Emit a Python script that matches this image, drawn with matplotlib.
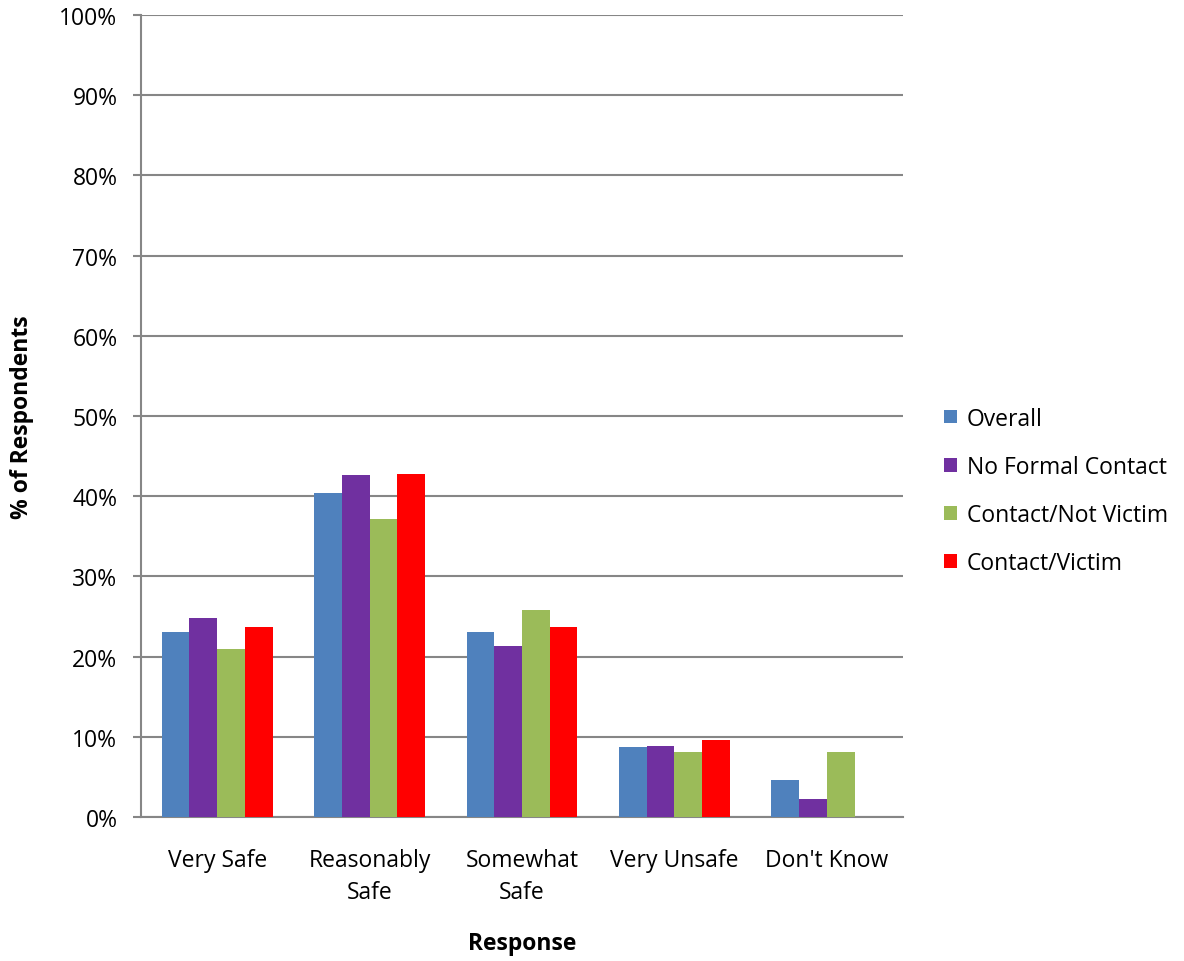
import matplotlib
matplotlib.use("Agg")
import matplotlib.pyplot as plt
import numpy as np
from matplotlib.ticker import PercentFormatter

plt.rcParams['font.family'] = ['Open Sans', 'DejaVu Sans']

categories = ["Very Safe", "Reasonably\nSafe", "Somewhat\nSafe", "Very Unsafe", "Don't Know"]
series_names = ["Overall", "No Formal Contact", "Contact/Not Victim", "Contact/Victim"]
overall = [23.1, 40.4, 23.1, 8.7, 4.6]
no_formal = [24.8, 42.7, 21.3, 8.9, 2.2]
contact_not_victim = [20.9, 37.1, 25.8, 8.1, 8.1]
contact_victim = [23.7, 42.8, 23.7, 9.6, 0.0]
colors = ["#4F81BD", "#7030A0", "#9BBB59", "#FF0000"]

fig = plt.figure(figsize=(11.84, 9.62), dpi=100)
ax = fig.add_axes([141/1184, 1 - 818/962, (903-141)/1184, (818-16)/962])

x = np.arange(len(categories))
width = 0.182
all_series = [overall, no_formal, contact_not_victim, contact_victim]
for i, (vals, name) in enumerate(zip(all_series, series_names)):
    ax.bar(x + (i - 1.5) * width, vals, width, color=colors[i], label=name, zorder=3)

ax.set_xlim(-0.5, len(categories) - 0.5)
ax.set_ylim(0, 100)
ax.set_yticks(range(0, 101, 10))
ax.yaxis.set_major_formatter(PercentFormatter(decimals=0))
ax.set_xticks(x)
ax.set_xticklabels(categories, fontsize=16.5, linespacing=1.45)
ax.tick_params(axis='x', length=0, pad=22.5)
ax.tick_params(axis='y', length=6, width=1.5, color="#868686", labelsize=16.5, pad=11)

ax.grid(axis='y', color="#868686", linewidth=1.5, zorder=0)
for s in ["top", "right"]:
    ax.spines[s].set_visible(False)
for s in ["left", "bottom"]:
    ax.spines[s].set_color("#868686")
    ax.spines[s].set_linewidth(1.5)

# axis titles
fig.text(22/1184, 1 - 417/962, "% of Respondents", rotation=90, fontsize=16.5,
         fontweight="bold", ha="center", va="center")
fig.text(522/1184, 1 - 944/962, "Response", fontsize=16.5,
         fontweight="bold", ha="center", va="center")

ax.legend(loc="center left", bbox_to_anchor=((935-141)/762, (818-492)/802), frameon=False,
          fontsize=16.5, handlelength=0.55, handleheight=0.55, handletextpad=0.45,
          labelspacing=1.06, borderaxespad=0)

fig.savefig("out.png", dpi=100)
